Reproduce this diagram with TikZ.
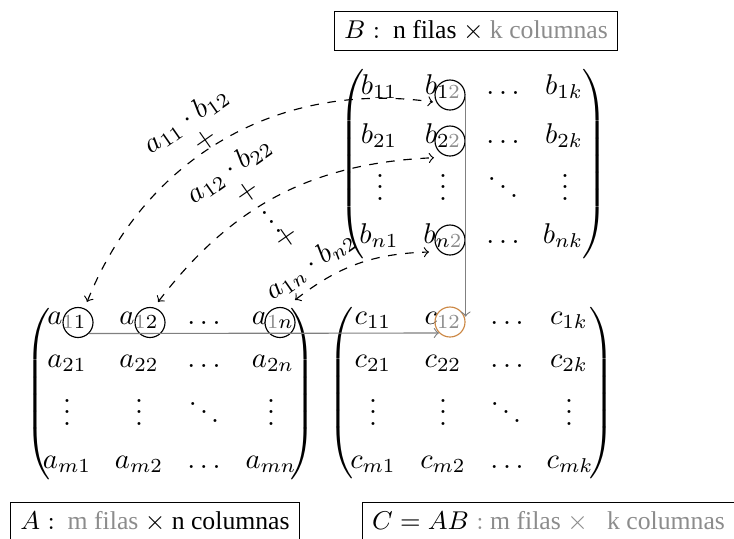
\documentclass[tikz,border=0pt]{standalone}
\usepackage{fontspec}
\newfontfamily\tms{Liberation Serif}
\usetikzlibrary{calc}
\definecolor{idx}{gray}{0.55}
\definecolor{ringorange}{RGB}{204,136,68}
\newcommand\gi[1]{{\color{idx}#1}}
\newcommand\mylp[1]{{\nulldelimiterspace=0pt$\left(\vcenter{\hbox{\rule{0pt}{#1}}}\right.$}}
\newcommand\myrp[1]{{\nulldelimiterspace=0pt$\left.\vcenter{\hbox{\rule{0pt}{#1}}}\right)$}}
\begin{document}
\begin{tikzpicture}[x=0.35pt,y=-0.35pt,
  ent/.style={anchor=base},
  ring/.style={draw, circle, minimum size=10.5pt, inner sep=0pt},
  delim/.style={inner sep=0pt},
  gline/.style={draw=gray, ->},
  prod/.style={dashed, <->},
  tag/.style={rotate=35},
  lab/.style={draw, font=\tms\small, inner sep=3.3pt}]
\useasboundingbox (0,0) rectangle (734,538);

% ---------- matrix A ----------
\node[delim] (Alp) at (38,394.5) {\mylp{63pt}};
\node[delim] (Arp) at (303,394.5) {\myrp{63pt}};
\node[ent] (a11) at (67,324) {$a_{\gi{1}1}$};
\node[ent] (a12) at (139,324) {$a_{\gi{1}2}$};
\node[ent] (a1d) at (204,324) {$\ldots$};
\node[ent] (a1n) at (273,324) {$a_{\gi{1}n}$};
\node[ent] (a21) at (67,367) {$a_{21}$};
\node[ent] (a22) at (139,367) {$a_{22}$};
\node[ent] (a2d) at (204,367) {$\ldots$};
\node[ent] (a2n) at (273,367) {$a_{2n}$};
\node[ent] (a31) at (67,425) {$\vdots$};
\node[ent] (a32) at (139,425) {$\vdots$};
\node[ent] (a3d) at (204,425) {$\ddots$};
\node[ent] (a3n) at (271,425) {$\vdots$};
\node[ent] (am1) at (67,468) {$a_{m1}$};
\node[ent] (am2) at (139,468) {$a_{m2}$};
\node[ent] (amd) at (204,468) {$\ldots$};
\node[ent] (amn) at (271,468) {$a_{mn}$};
\node[ring] (a11c) at (78,322.5) {};
\node[ring] (a12c) at (150,322.5) {};
\node[ring] (a1nc) at (280,322.5) {};

% ---------- matrix B ----------
\node[delim] (Blp) at (351.5,164) {\mylp{69pt}};
\node[delim] (Brp) at (595,164) {\myrp{69pt}};
\node[ent] (b11) at (379,94) {$b_{11}$};
\node[ent] (b12) at (443,94) {$b_{1\gi{2}}$};
\node[ent] (b1d) at (503,94) {$\ldots$};
\node[ent] (b1k) at (564,94) {$b_{1k}$};
\node[ent] (b21) at (379,143) {$b_{21}$};
\node[ent] (b22) at (443,143) {$b_{2\gi{2}}$};
\node[ent] (b2d) at (503,143) {$\ldots$};
\node[ent] (b2k) at (564,143) {$b_{2k}$};
\node[ent] (b31) at (380,200) {$\vdots$};
\node[ent] (b32) at (443,200) {$\vdots$};
\node[ent] (b3d) at (503,200) {$\ddots$};
\node[ent] (b3k) at (565,200) {$\vdots$};
\node[ent] (bn1) at (379,243) {$b_{n1}$};
\node[ent] (bn2) at (443,243) {$b_{n\gi{2}}$};
\node[ent] (bnd) at (503,243) {$\ldots$};
\node[ent] (bnk) at (563,243) {$b_{nk}$};
\node[ring] (b12c) at (450,95) {};
\node[ring] (b22c) at (450,141) {};
\node[ring] (bn2c) at (450,240) {};

% ---------- matrix C ----------
\node[delim] (Clp) at (341,393.5) {\mylp{63pt}};
\node[delim] (Crp) at (602,393.5) {\myrp{63pt}};
\node[ent] (c11) at (373,324) {$c_{11}$};
\node[ent] (c12) at (443,324) {$c_{\gi{12}}$};
\node[ent] (c1d) at (507,324) {$\ldots$};
\node[ent] (c1k) at (569,324) {$c_{1k}$};
\node[ent] (c21) at (373,367) {$c_{21}$};
\node[ent] (c22) at (443,367) {$c_{22}$};
\node[ent] (c2d) at (507,367) {$\ldots$};
\node[ent] (c2k) at (569,367) {$c_{2k}$};
\node[ent] (c31) at (373,425) {$\vdots$};
\node[ent] (c32) at (443,425) {$\vdots$};
\node[ent] (c3d) at (506,425) {$\ddots$};
\node[ent] (c3k) at (569,425) {$\vdots$};
\node[ent] (cm1) at (373,468) {$c_{m1}$};
\node[ent] (cm2) at (443,468) {$c_{m2}$};
\node[ent] (cmd) at (507,468) {$\ldots$};
\node[ent] (cmk) at (570,468) {$c_{mk}$};
\node[ring, draw=ringorange] (c12c) at (450,322) {};

% ---------- row / column guides ----------
\draw[gline] (a11c.south east) -- (c12c.south west);
\draw[gline] (b12c.east) -- (b12c.east |- c12c.20);

% ---------- products ----------
\draw[prod] ([shift={(9,-20.5)}]a11c.center) to[bend left=38] ([shift={(-17,7)}]b12c.center);
\draw[prod] ([shift={(8,-20.5)}]a12c.center) to[bend left=25] ([shift={(-16,16.7)}]b22c.center);
\draw[prod] ([shift={(15,-22.5)}]a1nc.center) to[bend left=18] ([shift={(-21,12)}]bn2c.center);

\node[tag] (t1) at (186,120) {$a_{11}\cdot b_{12}$};
\node[tag] (p1) at (205,140) {$+$};
\node[tag] (t2) at (229,170) {$a_{12}\cdot b_{22}$};
\node[tag] (p2) at (247,192) {$+$};
\node[tag] (vd) at (267,215) {$\vdots$};
\node[tag] (p3) at (286,237) {$+$};
\node[tag] (t3) at (310,265) {$a_{1n}\cdot b_{n2}$};

% ---------- captions ----------
\node[lab] (capB) at (476,31) {$B:$~ n filas $\times$ \gi{k columnas}};
\node[lab] (capA) at (155,522) {$A:$~ \gi{m filas} $\times$ n columnas};
\node[lab, anchor=west] (capC) at (362,522) {$C=AB\mathrel{\gi{:}}$ \gi{m filas $\times$~~ k columnas}};
\end{tikzpicture}
\end{document}
